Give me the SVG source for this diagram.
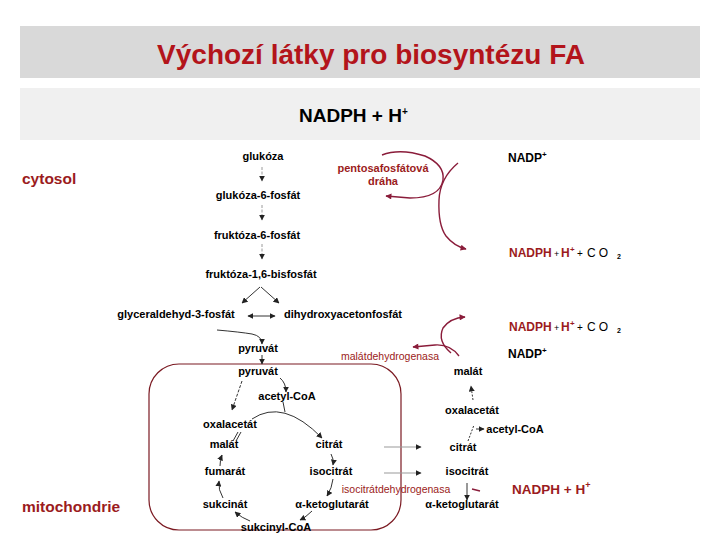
<svg xmlns="http://www.w3.org/2000/svg" width="720" height="540" viewBox="0 0 720 540">
<style>
text{font-family:"Liberation Sans",Arial,sans-serif}
.m{font-size:11px;font-weight:bold;fill:#000;text-anchor:middle}
.r{fill:#9b1b20}
.enz{font-size:10.5px;fill:#9b1b20;text-anchor:middle}
.ln{fill:none;stroke:#333;stroke-width:1}
.gl{fill:none;stroke:#9a9a9a;stroke-width:1;stroke-dasharray:3 1.5}
.rl{fill:none;stroke:#8a1c3a;stroke-width:1.4}
.np{font-size:12px;font-weight:bold}
</style>
<defs>
<marker id="a" viewBox="0 0 10 10" refX="9" refY="5" markerWidth="6" markerHeight="6" markerUnits="userSpaceOnUse" orient="auto-start-reverse"><path d="M0,0L10,5L0,10z" fill="#222"/></marker>
<marker id="ar" viewBox="0 0 10 10" refX="9" refY="5" markerWidth="7" markerHeight="6" markerUnits="userSpaceOnUse" orient="auto"><path d="M0,0L10,5L0,10z" fill="#8a1c3a"/></marker>
</defs>
<rect x="20" y="26" width="680" height="52" fill="#d9d9d9"/>
<rect x="20" y="88" width="680" height="52" fill="#f0f0f0"/>
<text x="371" y="64" text-anchor="middle" font-size="28" font-weight="bold" fill="#b3141b">Výchozí látky pro biosyntézu FA</text>
<text x="299" y="122" font-size="19" font-weight="bold">NADPH + H<tspan font-size="10" dy="-7">+</tspan></text>
<text x="22" y="184" font-size="15.5" font-weight="bold" class="r">cytosol</text>
<text x="22" y="512" font-size="15.5" font-weight="bold" class="r">mitochondrie</text>
<rect id="mito" x="149" y="364" width="252" height="166" rx="30" fill="none" stroke="#7b1a22" stroke-width="1.2"/>
<g id="connectors">
<path class="gl" d="M262 167V181" marker-end="url(#a)"/>
<path class="gl" d="M262 205V220" marker-end="url(#a)"/>
<path class="gl" d="M262 244V259" marker-end="url(#a)"/>
<path class="ln" d="M260 287L242 303" marker-end="url(#a)"/>
<path class="ln" d="M261 287L279 303" marker-end="url(#a)"/>
<path class="ln" d="M248 316H275" marker-start="url(#a)" marker-end="url(#a)"/>
<path class="ln" d="M217 330Q240 332 252 334Q262 336 262 344" marker-end="url(#a)"/>
<path class="ln" d="M262 355V364" marker-end="url(#a)"/>
<path class="ln" d="M280 378Q286 383 286 392" marker-end="url(#a)"/>
<path class="ln" d="M242 381L232 410" stroke-dasharray="3 1.5" marker-end="url(#a)"/>
<path class="ln" d="M283 402L285 412"/>
<path class="ln" d="M252 419Q283 398 322 438" marker-end="url(#a)"/>
<path class="ln" d="M331 454Q334 459 333 465" marker-end="url(#a)"/>
<path class="ln" d="M333 479Q332 488 327 496" marker-end="url(#a)"/>
<path class="ln" d="M312 511Q306 517 300 520" marker-end="url(#a)"/>
<path class="ln" d="M250 521Q242 518 235 512" marker-end="url(#a)"/>
<path class="ln" d="M223 498Q218 490 219 481" marker-end="url(#a)"/>
<path class="ln" d="M220 466Q220 460 222 455" marker-end="url(#a)"/>
<path class="ln" d="M233 441L238 432M236 441L241 432"/>
<path fill="none" stroke="#999" stroke-width="1.2" d="M384 447H421" marker-end="url(#a)"/>
<path fill="none" stroke="#999" stroke-width="1.2" d="M384 473H421" marker-end="url(#a)"/>
<path class="ln" d="M473 400L471 386" stroke-dasharray="2 1.5" marker-end="url(#a)"/>
<path class="ln" d="M468 441L474 425" stroke-dasharray="2 1.5"/>
<path class="ln" d="M476 429H484" marker-end="url(#a)"/>
<path class="ln" d="M467 483V500" marker-end="url(#a)"/>
<path class="rl" d="M472 489L480 491" stroke-width="1"/>
<path class="rl" d="M382 155Q400 148 425 156Q445 165 443 180Q440 198 410 198L386 196" marker-end="url(#ar)"/>
<path class="rl" d="M458 163Q440 178 439 200Q438 225 446 236Q454 246 466 249" marker-end="url(#ar)"/>
<path class="rl" d="M451 353Q437 341 443 328Q450 318 465 317" marker-end="url(#ar)"/>
<path class="rl" d="M459 356Q450 344 435 345L413 347" marker-end="url(#ar)"/>
</g>
<g id="nodes">
<text class="m" x="263" y="160">glukóza</text>
<text class="m" x="258" y="199">glukóza-6-fosfát</text>
<text class="m" x="257" y="239">fruktóza-6-fosfát</text>
<text class="m" x="261" y="278">fruktóza-1,6-bisfosfát</text>
<text class="m" x="176" y="318">glyceraldehyd-3-fosfát</text>
<text class="m" x="343" y="318">dihydroxyacetonfosfát</text>
<text class="m" x="258" y="352">pyruvát</text>
<text class="m" x="258" y="375">pyruvát</text>
<text class="m" x="287" y="400">acetyl-CoA</text>
<text class="m" x="230" y="428">oxalacetát</text>
<text class="m" x="224" y="448">malát</text>
<text class="m" x="329" y="448">citrát</text>
<text class="m" x="225" y="475">fumarát</text>
<text class="m" x="331" y="475">isocitrát</text>
<text class="m" x="225" y="508">sukcinát</text>
<text class="m" x="332" y="508">α-ketoglutarát</text>
<text class="m" x="276" y="531">sukcinyl-CoA</text>
<text class="m" x="468" y="375">malát</text>
<text class="m" x="472" y="414">oxalacetát</text>
<text class="m" x="515" y="433">acetyl-CoA</text>
<text class="m" x="463" y="451">citrát</text>
<text class="m" x="467" y="475">isocitrát</text>
<text class="m" x="462" y="508">α-ketoglutarát</text>
<text x="383" y="172" class="m r">pentosafosfátová</text>
<text x="383" y="185" class="m r">dráha</text>
<text class="enz" x="390" y="360">malátdehydrogenasa</text>
<text class="enz" x="396" y="493">isocitrátdehydrogenasa</text>
<text x="508" y="162" class="np">NADP<tspan font-size="8" dy="-5">+</tspan></text>
<text x="508" y="358" class="np">NADP<tspan font-size="8" dy="-5">+</tspan></text>
<text y="257" class="np"><tspan x="509" class="r">NADPH</tspan><tspan x="554" font-size="9" font-weight="normal">+</tspan><tspan x="561" class="r">H</tspan><tspan x="570" font-size="8" dy="-5" class="r">+</tspan><tspan x="577" font-size="10" font-weight="normal" dy="5">+</tspan><tspan x="587" font-size="12" font-weight="normal" letter-spacing="3">CO</tspan><tspan x="617" font-size="7" dy="2">2</tspan></text>
<text y="331" class="np"><tspan x="509" class="r">NADPH</tspan><tspan x="554" font-size="9" font-weight="normal">+</tspan><tspan x="561" class="r">H</tspan><tspan x="570" font-size="8" dy="-5" class="r">+</tspan><tspan x="577" font-size="10" font-weight="normal" dy="5">+</tspan><tspan x="587" font-size="12" font-weight="normal" letter-spacing="3">CO</tspan><tspan x="617" font-size="7" dy="2">2</tspan></text>
<text x="512" y="494" font-size="13.5" font-weight="bold" class="r">NADPH + H<tspan font-size="9" dy="-6">+</tspan></text>
</g>
</svg>
